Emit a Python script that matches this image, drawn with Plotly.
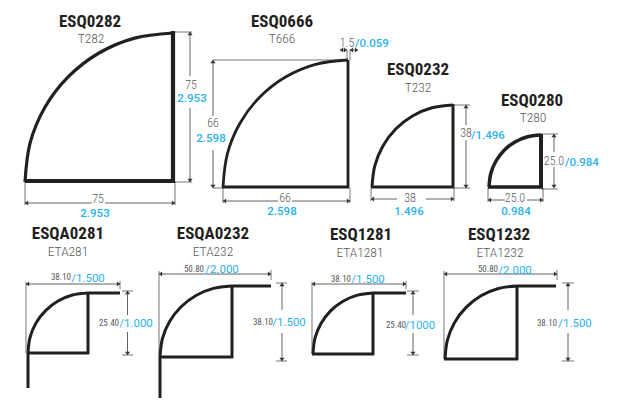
import plotly.graph_objects as go

BLACK = "#231f20"
GREY = "#58595b"
BLUE = "#29b2ee"
DIM = "#3a3a3a"

# ---- Profile outlines (page pixel units) ----
ESQ0282_ARC_X = [25, 30.0, 44.8, 68.4, 99, 134.7, 173]
ESQ0282_ARC_Y = [182, 143.4, 107.5, 76.7, 53, 38.1, 33]
ESQ0666_ARC_X = [223, 227.3, 239.8, 259.6, 285.5, 315.6, 348]
ESQ0666_ARC_Y = [187, 154.1, 123.5, 97.2, 77, 64.3, 60]
ESQ0232_ARC_X = [372, 374.8, 382.9, 395.7, 412.5, 432, 453]
ESQ0232_ARC_Y = [187, 165.8, 146, 129, 116, 107.8, 105]
ESQ0280_ARC_X = [489, 490.8, 496, 504.2, 515, 527.5, 541]
ESQ0280_ARC_Y = [187, 173.5, 161, 150.2, 142, 136.8, 135]
ESQA0281_ARC_X = [28, 30, 36, 45.6, 58, 72.5, 88]
ESQA0281_ARC_Y = [353, 337.5, 323, 310.6, 301, 295, 293]
ESQA0232_ARC_X = [160, 162.4, 169.6, 181.1, 196, 213.4, 232]
ESQA0232_ARC_Y = [357, 338.6, 321.5, 306.8, 295.5, 288.4, 286]
ESQ1281_ARC_X = [313, 315, 321, 330.6, 343, 357.5, 373]
ESQ1281_ARC_Y = [354, 338.2, 323.5, 310.9, 301.2, 295.1, 293]
ESQ1232_ARC_X = [445, 447.4, 454.6, 466.1, 481, 498.4, 517]
ESQ1232_ARC_Y = [359, 340.1, 322.5, 307.4, 295.8, 288.5, 286]

ARCS = [
    (ESQ0282_ARC_X, ESQ0282_ARC_Y, 3.2), (ESQ0666_ARC_X, ESQ0666_ARC_Y, 2.8),
    (ESQ0232_ARC_X, ESQ0232_ARC_Y, 3.0), (ESQ0280_ARC_X, ESQ0280_ARC_Y, 3.5),
    (ESQA0281_ARC_X, ESQA0281_ARC_Y, 3.0), (ESQA0232_ARC_X, ESQA0232_ARC_Y, 3.0),
    (ESQ1281_ARC_X, ESQ1281_ARC_Y, 3.0), (ESQ1232_ARC_X, ESQ1232_ARC_Y, 3.0),
]

# straight heavy pieces: x0, y0, x1, y1, width
WALLS = [
    (25, 181, 175, 181, 4), (173, 31, 173, 183, 4.2),
    (222, 187, 349, 187, 3), (348, 60, 348, 188, 2.8),
    (371, 187, 454, 187, 3), (453, 104, 453, 188, 3),
    (488, 187, 543, 187, 3.5), (541, 134, 541, 188, 4),
    (88, 293, 120, 293, 3), (88, 293, 88, 354, 3), (27, 353, 89, 353, 3), (28, 353, 28, 388, 3),
    (232, 286, 271, 286, 3), (232, 286, 232, 358, 3), (159, 357, 233, 357, 3), (160, 357, 160, 398, 3),
    (373, 293, 406, 293, 3), (373, 293, 373, 355, 3), (312, 354, 374, 354, 3),
    (517, 286, 556, 286, 3), (517, 286, 517, 360, 3), (444, 359, 518, 359, 3),
]

# thin witness lines: x0, y0, x1, y1
WITNESS = [
    (175, 32, 192, 32), (175, 182, 192, 182), (25, 182, 25, 205), (175, 182, 175, 205),
    (213, 60, 348, 60), (213, 188, 223, 188), (223, 188, 223, 203), (350, 188, 350, 203),
    (347, 50, 347, 60), (350, 50, 350, 60),
    (453, 105, 470, 105), (453, 188, 470, 188), (371, 188, 371, 201), (454, 188, 454, 201),
    (541, 134, 558, 134), (541, 189, 558, 189), (488, 188, 488, 202), (543, 188, 543, 202),
    (26, 282, 26, 353), (120, 281, 120, 289), (122, 291, 133, 291), (122, 355, 133, 355),
    (159, 271, 159, 356), (271, 270, 271, 280), (276, 283, 287, 283), (276, 361, 287, 361),
    (312, 282, 312, 354), (406, 281, 406, 289), (407, 291, 419, 291), (407, 355, 419, 355),
    (444, 271, 444, 358), (557, 270, 557, 280), (562, 283, 574, 283), (562, 361, 574, 361),
]

# dimension arrows, each a shaft with a gap for its label
# horizontal: y, x0, x1, gap0, gap1
H_DIMS = [
    (203, 25, 175, 92, 105), (201, 223, 350, 278, 292), (199, 371, 454, 397, 426),
    (200, 488, 543, 505, 527), (284, 26, 120, 26, 26), (274, 159, 271, 159, 159),
    (284, 312, 406, 312, 312), (274, 444, 557, 444, 444), (50, 340, 347, 340, 340),
    (50, 350, 358, 358, 358),
]
# vertical: x, y0, y1, gap0, gap1
V_DIMS = [
    (190, 32, 182, 76, 108), (213, 60, 188, 116, 150), (466, 105, 188, 125, 140),
    (554, 134, 188, 152, 167), (127.5, 291, 355, 315, 332), (282, 283, 361, 310, 333),
    (413, 291, 355, 315, 333), (568, 283, 361, 310, 333),
]

# ---- Text ----
TITLES = ["ESQ0282", "ESQ0666", "ESQ0232", "ESQ0280", "ESQA0281", "ESQA0232", "ESQ1281", "ESQ1232"]
TITLE_X = [90, 282, 418, 532, 68, 213, 361, 499]
TITLE_Y = [23, 23, 71, 102, 235, 235, 236, 236]
CODES = ["T282", "T666", "T232", "T280", "ETA281", "ETA232", "ETA1281", "ETA1232"]
CODE_X = [91, 282, 418, 533, 68, 213, 360, 500]
CODE_Y = [39.5, 39.5, 88.5, 118.5, 252.5, 252.5, 253.5, 253.5]

GREY_LABELS = ["75", "75", "66", "66", "1.5", "38", "38", "25.0", "25.0"]
GREY_X = [191, 98, 213, 285, 347, 466, 410, 554, 515]
GREY_Y = [85.5, 200, 124, 199, 44, 134, 199, 162, 199]
SMALL_LABELS = ["38.10", "25.40", "50.80", "38.10", "38.10", "25.40", "50.80", "38.10"]
SMALL_X = [61, 109, 194, 263, 341, 396, 488, 547]
SMALL_Y = [278, 324, 270, 323, 280, 326, 270, 324]
BLUE_LABELS = ["2.953", "2.953", "2.598", "2.598", "/0.059", "/1.496", "1.496", "/0.984", "0.984"]
BLUE_X = [192, 95, 211, 282, 372, 488, 409, 582, 516]
BLUE_Y = [99.5, 214, 139, 212, 44, 136, 212, 163, 212]
BLUE_BIG_LABELS = ["/1.500", "/1.000", "/2.000", "/1.500", "/1.500", "/1000", "/2.000", "/1.500"]
BLUE_BIG_X = [88, 136, 222, 289, 368, 420, 515, 575]
BLUE_BIG_Y = [279, 324, 270, 323, 280, 326, 271, 324]

fig = go.Figure()


def line(xs, ys, color, width, spline=False):
    fig.add_trace(go.Scatter(
        x=xs, y=ys, mode="lines",
        line=dict(color=color, width=width, shape="spline" if spline else "linear", smoothing=1.0),
        hoverinfo="skip", showlegend=False,
    ))


def arrow(x, y, symbol):
    fig.add_trace(go.Scatter(
        x=[x], y=[y], mode="markers",
        marker=dict(symbol=symbol, size=4.5, color=DIM, line=dict(width=0)),
        hoverinfo="skip", showlegend=False,
    ))


def text(labels, xs, ys, size, color, family, bold=False, weight=None):
    shown = [f"<b>{t}</b>" for t in labels] if bold else labels
    font = dict(size=size, color=color, family=family)
    if weight:
        font["weight"] = weight
    fig.add_trace(go.Scatter(
        x=xs, y=ys, mode="text", text=shown, textposition="middle center",
        textfont=font, hoverinfo="skip", showlegend=False,
    ))


for ax, ay, w in ARCS:
    line(ax, ay, BLACK, w, spline=True)
for x0, y0, x1, y1, w in WALLS:
    line([x0, x1], [y0, y1], BLACK, w)
for x0, y0, x1, y1 in WITNESS:
    line([x0, x1], [y0, y1], DIM, 0.7)
for y, x0, x1, g0, g1 in H_DIMS:
    line([x0, g0, None, g1, x1], [y, y, None, y, y], DIM, 0.8)
    arrow(x0 + 2, y, "triangle-left")
    arrow(x1 - 2, y, "triangle-right")
for x, y0, y1, g0, g1 in V_DIMS:
    line([x, x, None, x, x], [y0, g0, None, g1, y1], DIM, 0.8)
    arrow(x, y0 + 2, "triangle-up")
    arrow(x, y1 - 2, "triangle-down")

NARROW = "Roboto Condensed, Liberation Sans, sans-serif"
text(TITLES, TITLE_X, TITLE_Y, 17, BLACK, NARROW, bold=True)
text(CODES, CODE_X, CODE_Y, 13.5, GREY, NARROW, weight=300)
text(GREY_LABELS, GREY_X, GREY_Y, 12, GREY, NARROW, weight=300)
text(SMALL_LABELS, SMALL_X, SMALL_Y, 9, GREY, NARROW)
text(BLUE_LABELS, BLUE_X, BLUE_Y, 11.5, BLUE, "Roboto", weight=500)
text(BLUE_BIG_LABELS, BLUE_BIG_X, BLUE_BIG_Y, 11.5, BLUE, "Roboto")

fig.update_layout(
    width=621, height=408, autosize=False,
    margin=dict(l=0, r=0, t=0, b=0),
    paper_bgcolor="white", plot_bgcolor="white",
    showlegend=False,
    xaxis=dict(range=[0, 621], visible=False, fixedrange=True),
    yaxis=dict(range=[408, 0], visible=False, fixedrange=True),
)
fig.write_html(
    "out.html",
    config={"displayModeBar": False, "responsive": False},
    post_script="document.body.style.margin='0';document.body.style.overflow='hidden';",
)
